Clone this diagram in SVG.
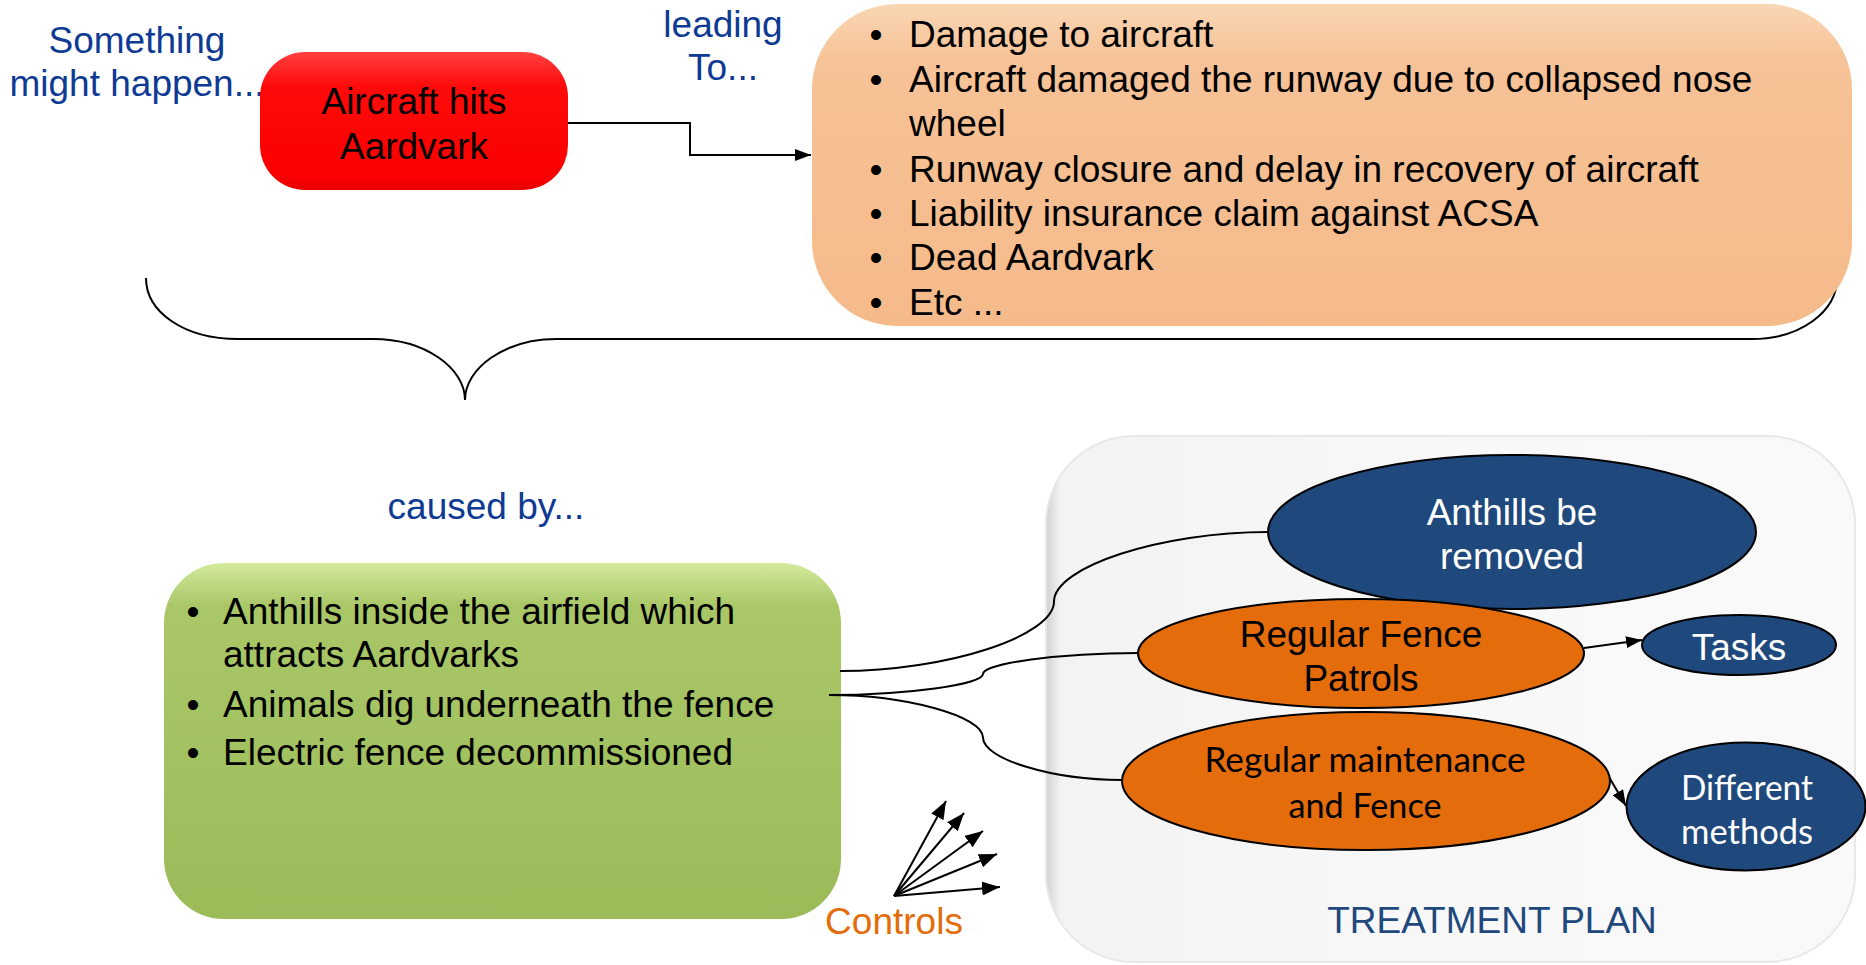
<svg xmlns="http://www.w3.org/2000/svg" width="1866" height="965" viewBox="0 0 1866 965">
  <style>
    .sans { font-family: "Liberation Sans", Arial, sans-serif; font-size: 37px; }
    .cal { font-family: Lato, "Liberation Sans", sans-serif; font-size: 35px; }
    .note { fill: #0e3a94; }
    .dark { fill: #000000; }
    .light { fill: #ffffff; }
    .mid { text-anchor: middle; }
    .wire { fill: none; stroke: #000000; stroke-width: 2; }
    .ell-blue { fill: #1f497d; stroke: #000000; stroke-width: 2; }
    .ell-orange { fill: #e46c0a; stroke: #000000; stroke-width: 2; }
  </style>
  <defs>
    <linearGradient id="gRed" x1="0" y1="0" x2="0" y2="1">
      <stop offset="0" stop-color="#ff4040"/>
      <stop offset="0.25" stop-color="#ff0a0a"/>
      <stop offset="0.9" stop-color="#fb0000"/>
      <stop offset="1" stop-color="#e80000"/>
    </linearGradient>
    <linearGradient id="gPeach" x1="0" y1="0" x2="0" y2="1">
      <stop offset="0" stop-color="#f9d6b3"/>
      <stop offset="0.18" stop-color="#f6c297"/>
      <stop offset="1" stop-color="#f5ba8a"/>
    </linearGradient>
    <linearGradient id="gGreen" x1="0" y1="0" x2="0" y2="1">
      <stop offset="0" stop-color="#d3ea9c"/>
      <stop offset="0.12" stop-color="#a9c767"/>
      <stop offset="1" stop-color="#9bbb59"/>
    </linearGradient>
    <linearGradient id="gPlan" x1="0" y1="0" x2="1" y2="0">
      <stop offset="0" stop-color="#d2d2d2"/>
      <stop offset="0.018" stop-color="#f3f3f3"/>
      <stop offset="0.5" stop-color="#f8f8f8"/>
      <stop offset="1" stop-color="#f9f9f9"/>
    </linearGradient>
    <marker id="tip" viewBox="0 0 16 12" refX="16" refY="6" markerWidth="16" markerHeight="12" markerUnits="userSpaceOnUse" orient="auto">
      <path d="M0,0 L16,6 L0,12 Z" fill="#000000"/>
    </marker>
    <marker id="tipBig" viewBox="0 0 18 14" refX="18" refY="7" markerWidth="18" markerHeight="14" markerUnits="userSpaceOnUse" orient="auto">
      <path d="M0,0 L18,7 L0,14 Z" fill="#000000"/>
    </marker>
  </defs>

  <rect x="0" y="0" width="1866" height="965" fill="#ffffff"/>

  <!-- curly brace grouping the event and its consequences -->
  <path class="wire" d="M146,278 C146,312 184,339 238,339 L373,339 C425,339 465,368 465,400 C465,368 505,339 557,339 L1752,339 C1800,339 1837,312 1837,278"/>

  <!-- treatment plan panel -->
  <g id="treatment-plan">
    <rect x="1046" y="436" width="809" height="526" rx="88" ry="88" fill="url(#gPlan)" stroke="#e8e8e8" stroke-width="2"/>
    <text class="sans mid" x="1492" y="933" fill="#1f497d">TREATMENT PLAN</text>
  </g>

  <g id="note-something">
    <text class="sans note mid" x="137" y="53">Something</text>
    <text class="sans note mid" x="137" y="96">might happen...</text>
  </g>

  <g id="note-leading">
    <text class="sans note mid" x="723" y="37">leading</text>
    <text class="sans note mid" x="723" y="80">To...</text>
  </g>

  <g id="note-caused">
    <text class="sans note mid" x="486" y="519">caused by...</text>
  </g>

  <g id="event">
    <rect x="260" y="52" width="308" height="138" rx="45" ry="45" fill="url(#gRed)"/>
    <text class="sans dark mid" x="414" y="114">Aircraft hits</text>
    <text class="sans dark mid" x="414" y="159">Aardvark</text>
  </g>

  <g id="consequences">
    <rect x="812" y="4" width="1040" height="322" rx="85" ry="85" fill="url(#gPeach)"/>
    <g class="sans dark">
      <text x="876" y="47" class="mid">•</text><text x="909" y="47">Damage to aircraft</text>
      <text x="876" y="92" class="mid">•</text><text x="909" y="92">Aircraft damaged the runway due to collapsed nose</text>
      <text x="909" y="136">wheel</text>
      <text x="876" y="182" class="mid">•</text><text x="909" y="182">Runway closure and delay in recovery of aircraft</text>
      <text x="876" y="226" class="mid">•</text><text x="909" y="226">Liability insurance claim against ACSA</text>
      <text x="876" y="270" class="mid">•</text><text x="909" y="270">Dead Aardvark</text>
      <text x="876" y="315" class="mid">•</text><text x="909" y="315">Etc ...</text>
    </g>
  </g>

  <g id="causes">
    <rect x="164" y="563" width="677" height="356" rx="60" ry="60" fill="url(#gGreen)"/>
    <g class="sans dark">
      <text x="193" y="624" class="mid">•</text><text x="223" y="624">Anthills inside the airfield which</text>
      <text x="223" y="667">attracts Aardvarks</text>
      <text x="193" y="717" class="mid">•</text><text x="223" y="717">Animals dig underneath the fence</text>
      <text x="193" y="765" class="mid">•</text><text x="223" y="765">Electric fence decommissioned</text>
    </g>
  </g>

  <!-- connectors -->
  <g id="connectors">
    <path class="wire" d="M568,123 L690,123 L690,155 L811,155" marker-end="url(#tip)"/>
    <path class="wire" d="M840,671 C947,671 1054,636 1054,601.5 C1054,567 1161,532 1268,532"/>
    <path class="wire" d="M829,695 C906,695 983,684.5 983,674 C983,663.5 1060,653 1138,653"/>
    <path class="wire" d="M829,695 C906,695 983,716 983,737.5 C983,759 1052,780 1122,780"/>
    <line class="wire" x1="1584" y1="648" x2="1642" y2="640" marker-end="url(#tip)"/>
    <line class="wire" x1="1609" y1="777" x2="1626" y2="806" marker-end="url(#tip)"/>
    <line class="wire" x1="894" y1="896" x2="946" y2="801" marker-end="url(#tipBig)"/>
    <line class="wire" x1="894" y1="896" x2="964" y2="813" marker-end="url(#tipBig)"/>
    <line class="wire" x1="894" y1="896" x2="983" y2="831" marker-end="url(#tipBig)"/>
    <line class="wire" x1="894" y1="896" x2="997" y2="854" marker-end="url(#tipBig)"/>
    <line class="wire" x1="894" y1="896" x2="1000" y2="887" marker-end="url(#tipBig)"/>
  </g>

  <g id="controls-label">
    <text class="sans mid" x="894" y="934" fill="#e46c0a">Controls</text>
  </g>

  <g id="anthills-removed">
    <ellipse class="ell-blue" cx="1512" cy="532" rx="244" ry="77"/>
    <text class="sans light mid" x="1512" y="525">Anthills be</text>
    <text class="sans light mid" x="1512" y="569">removed</text>
  </g>

  <g id="fence-patrols">
    <ellipse class="ell-orange" cx="1361" cy="653.5" rx="223" ry="54.5"/>
    <text class="sans dark mid" x="1361" y="647">Regular Fence</text>
    <text class="sans dark mid" x="1361" y="691">Patrols</text>
  </g>

  <g id="tasks">
    <ellipse class="ell-blue" cx="1739" cy="645" rx="97" ry="30"/>
    <text class="sans light mid" x="1739" y="660">Tasks</text>
  </g>

  <g id="maintenance">
    <ellipse class="ell-orange" cx="1366" cy="781" rx="244" ry="69"/>
    <text class="cal dark mid" x="1365" y="772" textLength="321" lengthAdjust="spacingAndGlyphs">Regular maintenance</text>
    <text class="cal dark mid" x="1365" y="818" textLength="153" lengthAdjust="spacingAndGlyphs">and Fence</text>
  </g>

  <g id="different-methods">
    <ellipse class="ell-blue" cx="1746" cy="806.5" rx="119.5" ry="64"/>
    <text class="cal light mid" x="1747" y="800" textLength="132" lengthAdjust="spacingAndGlyphs">Different</text>
    <text class="cal light mid" x="1747" y="844" textLength="132" lengthAdjust="spacingAndGlyphs">methods</text>
  </g>
</svg>
